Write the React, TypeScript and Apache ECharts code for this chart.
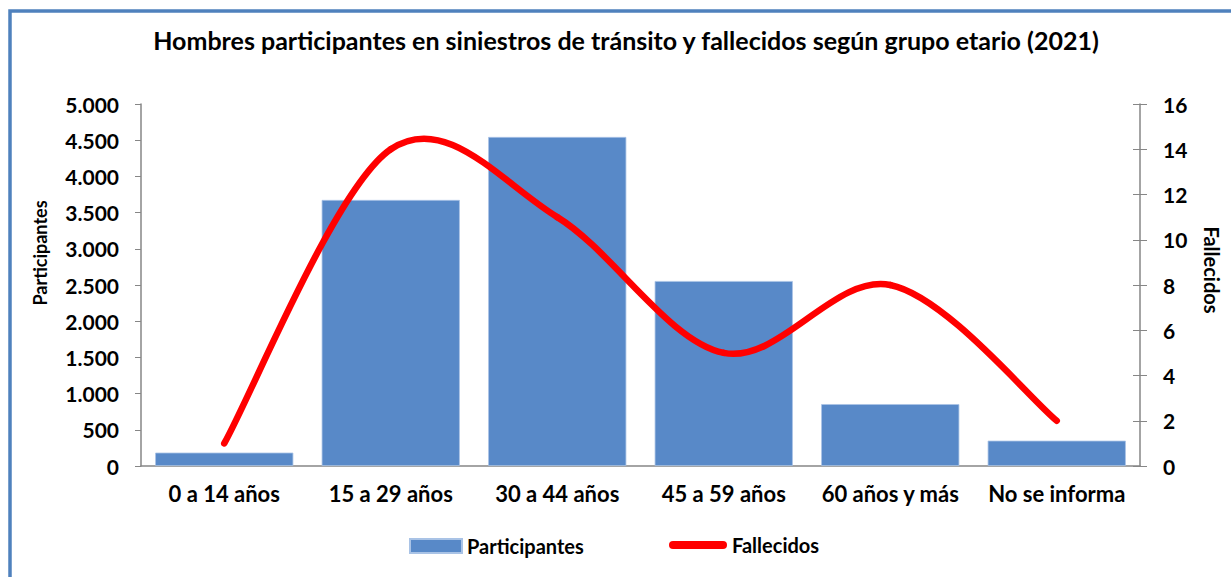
import React, { useEffect, useRef } from "react";
import * as echarts from "echarts";

const categories = ["0 a 14 años", "15 a 29 años", "30 a 44 años", "45 a 59 años", "60 años y más", "No se informa"];
const participantes = [185, 3675, 4545, 2555, 855, 350];
const fallecidos = [1, 14, 11, 5, 8, 2];
const titleText = "Hombres participantes en siniestros de tránsito y fallecidos según grupo etario (2021)";

const FONT = "Lato";
const BAR_COLOR = "#5889C8";
const LINE_COLOR = "#FF0000";

export default function App() {
  const ref = useRef<HTMLDivElement>(null);
  useEffect(() => {
    const chart = echarts.init(ref.current!, null, { renderer: "svg" });
    const renderSmooth = (params: any, api: any) => {
      const i = params.dataIndexInside;
      const n = params.dataInsideLength;
      if (i >= n - 1) return null;
      const pt = (j: number) => {
        const k = Math.max(0, Math.min(n - 1, j));
        return api.coord([api.value(0, k), api.value(1, k)]);
      };
      const p0 = pt(i - 1);
      const p1 = pt(i);
      const p2 = pt(i + 1);
      const p3 = pt(i + 2);
      return {
        type: "bezierCurve",
        shape: {
          x1: p1[0],
          y1: p1[1],
          x2: p2[0],
          y2: p2[1],
          cpx1: p1[0] + (p2[0] - p0[0]) / 6,
          cpy1: p1[1] + (p2[1] - p0[1]) / 6,
          cpx2: p2[0] - (p3[0] - p1[0]) / 6,
          cpy2: p2[1] - (p3[1] - p1[1]) / 6,
        },
        style: { stroke: LINE_COLOR, lineWidth: 6.5, fill: "none", lineCap: "round" },
      };
    };
    chart.setOption({
      animation: false,
      backgroundColor: "#ffffff",
      textStyle: { fontFamily: FONT },
      title: {
        text: titleText,
        left: 626,
        textAlign: "center",
        top: 27,
        padding: 0,
        textStyle: { fontFamily: FONT, fontWeight: "bold", fontSize: 25, color: "#000" },
      },
      graphic: [
        {
          type: "rect",
          shape: { x: 10, y: 11, width: 1400, height: 800 },
          style: { fill: "none", stroke: "#4F81BD", lineWidth: 3.5 },
          silent: true,
          z: 100,
        },
      ],
      legend: [
        {
          data: [{ name: "Participantes", icon: "rect" }],
          left: 409,
          top: 536,
          padding: 0,
          itemWidth: 52,
          itemHeight: 14,
          textStyle: { fontFamily: FONT, fontWeight: "bold", fontSize: 20, color: "#000" },
        },
        {
          data: [
            {
              name: "Fallecidos",
              icon: "path://M4,0 L54,0 A4,4 0 0 1 54,8 L4,8 A4,4 0 0 1 4,0 Z",
              itemStyle: { color: LINE_COLOR, borderWidth: 0 },
            },
          ],
          left: 669,
          top: 535,
          padding: 0,
          itemWidth: 58,
          itemHeight: 8,
          textStyle: { fontFamily: FONT, fontWeight: "bold", fontSize: 20, color: "#000" },
        },
      ],
      grid: { left: 141, right: 91, top: 104, bottom: 111, containLabel: false },
      xAxis: {
        type: "category",
        data: categories,
        axisLine: { lineStyle: { color: "#868686", width: 1.5 } },
        axisTick: { show: false },
        axisLabel: {
          interval: 0,
          hideOverlap: false,
          fontFamily: FONT,
          fontWeight: "bold",
          fontSize: 22,
          color: "#000",
          margin: 16,
        },
      },
      yAxis: [
        {
          type: "value",
          min: 0,
          max: 5000,
          interval: 500,
          position: "left",
          name: "Participantes",
          nameLocation: "middle",
          nameGap: 92,
          nameTextStyle: {
            fontFamily: FONT,
            fontWeight: "bold",
            fontSize: 18,
            color: "#000",
            padding: [0, 0, 0, 64],
          },
          axisLine: { show: true, lineStyle: { color: "#868686", width: 1.5 } },
          axisTick: { show: true, length: 6, lineStyle: { color: "#868686" } },
          splitLine: { show: false },
          axisLabel: {
            fontFamily: FONT,
            fontWeight: "bold",
            fontSize: 21,
            color: "#000",
            margin: 22,
            formatter: (v: number) => v.toLocaleString("de-DE"),
          },
        },
        {
          type: "value",
          min: 0,
          max: 16,
          interval: 2,
          position: "right",
          name: "Fallecidos",
          nameLocation: "middle",
          nameRotate: -90,
          nameGap: 62,
          nameTextStyle: {
            fontFamily: FONT,
            fontWeight: "bold",
            fontSize: 20,
            color: "#000",
            padding: [0, 30, 0, 0],
          },
          axisLine: { show: true, lineStyle: { color: "#868686", width: 1.5 } },
          axisTick: { show: true, length: 7, lineStyle: { color: "#868686" } },
          splitLine: { show: false },
          axisLabel: { fontFamily: FONT, fontWeight: "bold", fontSize: 21, color: "#000", margin: 23 },
        },
        {
          type: "value",
          min: 0,
          max: 16,
          interval: 2,
          position: "right",
          axisLine: { show: false },
          axisTick: { show: true, inside: true, length: 7, lineStyle: { color: "#868686" } },
          splitLine: { show: false },
          axisLabel: { show: false },
        },
      ],
      series: [
        {
          name: "Participantes",
          type: "bar",
          data: participantes,
          yAxisIndex: 0,
          barCategoryGap: "17%",
          itemStyle: { color: BAR_COLOR, borderColor: "#A9C3E6", borderWidth: 0.8 },
        },
        {
          name: "Fallecidos",
          type: "custom",
          yAxisIndex: 1,
          data: fallecidos.map((v, i) => [i, v]),
          encode: { x: 0, y: 1 },
          renderItem: renderSmooth,
          itemStyle: { color: LINE_COLOR },
          clip: false,
          z: 5,
        },
      ],
    });
    return () => chart.dispose();
  }, []);
  return (
    <div
      ref={ref}
      style={{ position: "absolute", left: 0, top: 0, width: 1231, height: 577 }}
    />
  );
}
